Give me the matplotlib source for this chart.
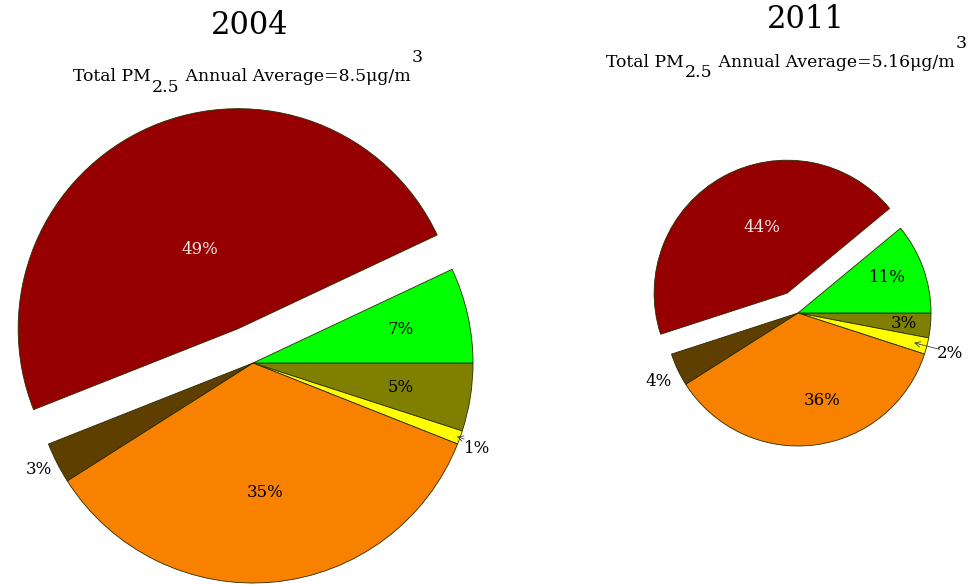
import matplotlib
matplotlib.use("Agg")
import matplotlib.pyplot as plt
import numpy as np

# ---------------- data ----------------
years = ["2004", "2011"]
totals = ["8.5", "5.16"]
# slice order: clockwise from 3 o'clock
categories = ["olive", "yellow", "orange", "brown", "red", "green"]
values_2004 = [5, 1, 35, 3, 49, 7]
values_2011 = [3, 2, 36, 4, 44, 11]

# ---------------- style ----------------
colors = ["#808000", "#FFFF00", "#F88200", "#5F3F00", "#960000", "#00FF00"]
explode = [0, 0, 0, 0, 0.17, 0]
text_colors = ["black", "black", "black", "black", "#F2E6E6", "black"]
# label placement (fraction of radius, angular shift in degrees)
dist_2004 = [0.68, 1.09, 0.59, 1.09, 0.40, 0.69]
shift_2004 = [-0.5, -1.0, 0.0, -0.5, 2.5, 0.0]
dist_2011 = [0.80, 1.18, 0.68, 1.17, 0.53, 0.72]
shift_2011 = [0.0, -0.6, 8.0, 1.0, -8.0, 2.0]
arrow_2004 = [None, (1.02, 0.985), None, None, None, None]
arrow_2011 = [None, (1.10, 0.90), None, None, None, None]

FONT = "DejaVu Serif"
W, H = 971, 585
fig = plt.figure(figsize=(W / 100, H / 100), dpi=100)


def set_frame(ax, cx, cy, R):
    """Unit circle of radius R px centred at (cx, cy) px (y from top)."""
    ax.set_aspect("auto")
    ax.set_xlim(-cx / R, (W - cx) / R)
    ax.set_ylim(-(H - cy) / R, cy / R)
    ax.axis("off")
    ax.patch.set_alpha(0)


def draw_pie(ax, values, dists, shifts, arrows):
    wedges, _ = ax.pie(values, colors=colors, explode=explode, startangle=0,
                       counterclock=False, radius=1.0,
                       wedgeprops=dict(edgecolor="#2b2b00", linewidth=0.6))
    for i, w in enumerate(wedges):
        mid = np.deg2rad(0.5 * (w.theta1 + w.theta2) + shifts[i])
        cx, cy = w.center
        tx = cx + dists[i] * np.cos(mid)
        ty = cy + dists[i] * np.sin(mid)
        ax.text(tx, ty, f"{values[i]}%", ha="center", va="center",
                fontsize=12, family=FONT, color=text_colors[i])
        if arrows[i] is not None:
            r0, r1 = arrows[i]
            amid = np.deg2rad(0.5 * (w.theta1 + w.theta2))
            ax.annotate("", xy=(r1 * np.cos(amid), r1 * np.sin(amid)),
                        xytext=(r0 * np.cos(amid), r0 * np.sin(amid)),
                        arrowprops=dict(arrowstyle="->", lw=0.6, color="#444444",
                                        shrinkA=0, shrinkB=0))


ax1 = fig.add_axes([0, 0, 1, 1])
draw_pie(ax1, values_2004, dist_2004, shift_2004, arrow_2004)
set_frame(ax1, 253, 363, 220)
ax2 = fig.add_axes([0, 0, 1, 1])
draw_pie(ax2, values_2011, dist_2011, shift_2011, arrow_2011)
set_frame(ax2, 798, 313, 133)


def px(x, y):
    return x / W, 1 - y / H


# titles
fig.text(*px(250, 26), years[0], ha="center", va="center", fontsize=22, family=FONT)
fig.text(*px(806, 20), years[1], ha="center", va="center", fontsize=22, family=FONT)


def subtitle(ax, x, y, total, sub_drop, sup_rise):
    fs = 12.4
    t1 = fig.text(*px(x, y), "Total PM", fontsize=fs, family=FONT, va="baseline", ha="left")
    base = t1  # y reference: bottom of t1's box
    t2 = ax.annotate("2.5", xy=(1, 0), xycoords=t1, xytext=(1, -sub_drop),
                     textcoords="offset points", fontsize=fs, family=FONT,
                     va="bottom", ha="left", annotation_clip=False)
    t3 = ax.annotate(f" Annual Average={total}\u03bcg/m", xy=(1, 0), xycoords=(t2, base),
                     xytext=(0, 0), textcoords="offset points", fontsize=fs,
                     family=FONT, va="bottom", ha="left", annotation_clip=False)
    ax.annotate("3", xy=(1, 0), xycoords=(t3, base), xytext=(1, sup_rise),
                textcoords="offset points", fontsize=fs, family=FONT,
                va="bottom", ha="left", annotation_clip=False)


subtitle(ax1, 73, 81, totals[0], 8, 14)
subtitle(ax2, 606, 67, totals[1], 7.5, 14)

fig.savefig("out.png", dpi=100)
